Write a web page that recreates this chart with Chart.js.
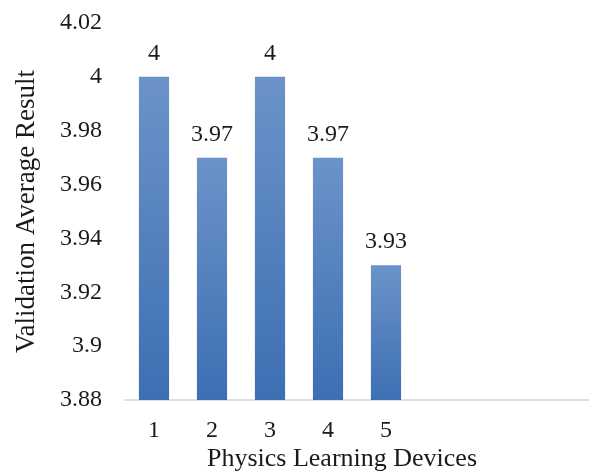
<!DOCTYPE html>
<html>
<head>
<meta charset="utf-8">
<script src="https://cdn.jsdelivr.net/npm/chart.js@4/dist/chart.umd.min.js"></script>
<style>
  html, body { margin: 0; padding: 0; background: #fff; }
  #wrap { width: 589px; height: 473px; }
</style>
</head>
<body>
<div id="wrap"><canvas id="myChart"></canvas></div>
<script>
'use strict'

// devices on the x axis (last three slots stay empty)
var devices = ['1', '2', '3', '4', '5', '', '', ''];
var averages = [4, 3.97, 4, 3.97, 3.93];
var yTicks = [3.88, 3.9, 3.92, 3.94, 3.96, 3.98, 4, 4.02];
var xTitle = 'Physics Learning Devices';

var serif = '"Liberation Serif", "Times New Roman", serif';
var ink = '#1a1a1a';

// vertical gradient for each bar, lighter on top
function barFill(c) {
	var chart = c.chart;
	var area = chart.chartArea;
	if (!area || c.type !== 'data') return '#4a7bbf';
	var top = chart.scales.y.getPixelForValue(c.raw);
	var g = chart.ctx.createLinearGradient(0, top, 0, area.bottom);
	g.addColorStop(0, '#6b93c9');
	g.addColorStop(1, '#3d6fb3');
	return g;
}

// value labels above bars + x axis title
var valueLabels = {
	id: 'valueLabels',
	afterDatasetsDraw: function(chart) {
		var ctx = chart.ctx;
		var meta = chart.getDatasetMeta(0);
		ctx.save();
		ctx.font = '24px ' + serif;
		ctx.fillStyle = ink;
		ctx.textAlign = 'center';
		ctx.textBaseline = 'alphabetic';
		meta.data.forEach(function(bar, i) {
			ctx.fillText(String(averages[i]), bar.x, bar.y - 17);
		});
		ctx.font = '26px ' + serif;
		ctx.fillText(xTitle, 342, 466);
		ctx.restore();
	}
};

var ctx = document.getElementById('myChart').getContext('2d');

var chart = new Chart(ctx, {
	type: 'bar',
	data: {
		labels: devices,
		datasets: [{
			label: 'Validation Average Result',
			data: averages,
			backgroundColor: barFill,
			borderWidth: 0,
			categoryPercentage: 1,
			barPercentage: 0.52
		}]
	},
	options: {
		responsive: true,
		maintainAspectRatio: false,
		animation: false,
		layout: { padding: { top: 23, right: 0, left: 0, bottom: 0 } },
		plugins: {
			legend: { display: false },
			tooltip: { enabled: false }
		},
		scales: {
			x: {
				grid: { display: false, drawTicks: false },
				border: { display: true, color: '#d5e0f1', width: 2 },
				ticks: { color: ink, font: { family: serif, size: 24 }, padding: 16, maxRotation: 0 },
				afterFit: function(scale) {
					scale.height = 73;
					scale.paddingLeft = 0;
					scale.paddingRight = 0;
				}
			},
			y: {
				min: 3.88,
				max: 4.02,
				grid: { display: false, drawTicks: false },
				border: { display: false },
				afterBuildTicks: function(scale) {
					scale.ticks = yTicks.map(function(v) { return { value: v }; });
				},
				ticks: {
					color: ink,
					font: { family: serif, size: 24 },
					padding: 23,
					callback: function(v) { return String(parseFloat(v.toFixed(2))); }
				},
				title: {
					display: true,
					text: 'Validation Average Result',
					color: ink,
					font: { family: serif, size: 27 },
					padding: { top: 11, bottom: 0 }
				},
				afterFit: function(scale) {
					scale.width = 125;
					scale.paddingTop = 0;
					scale.paddingBottom = 0;
				}
			}
		}
	},
	plugins: [valueLabels]
});
</script>
</body>
</html>
